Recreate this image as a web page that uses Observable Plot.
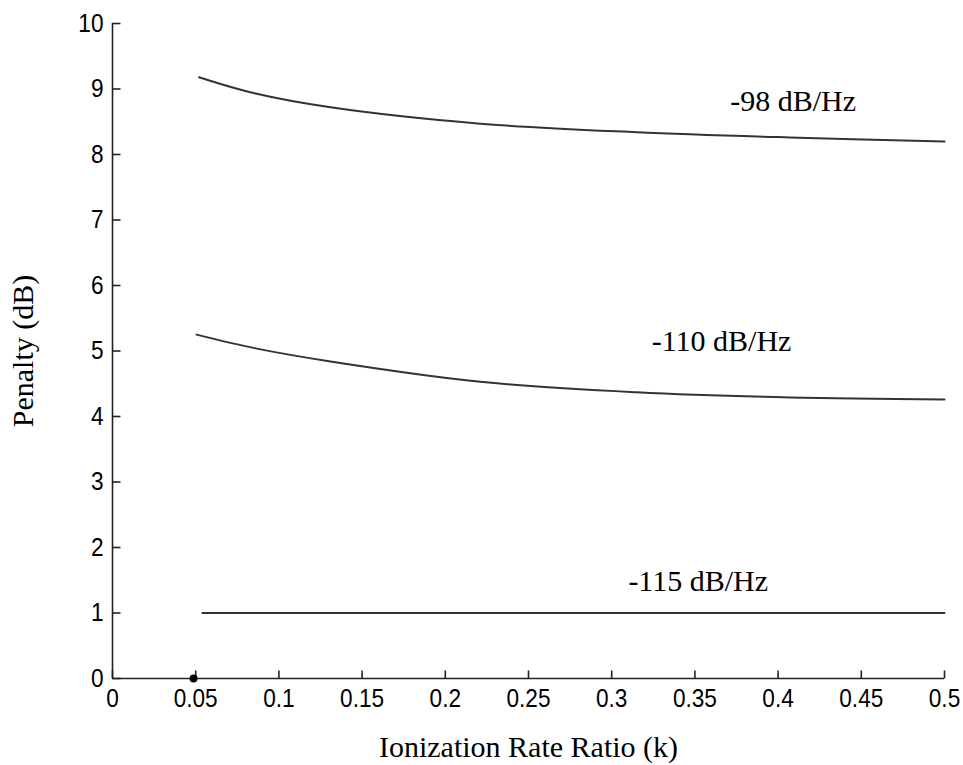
<!DOCTYPE html>
<html>
<head>
<meta charset="utf-8">
<script src="https://cdn.jsdelivr.net/npm/d3@7"></script>
<script src="https://cdn.jsdelivr.net/npm/@observablehq/plot@0.6"></script>
<style>
  html, body { margin: 0; padding: 0; background: #fff; }
  #chart svg { display: block; }
</style>
</head>
<body>
<div id="chart"></div>
<script>
// ---- data ----
const xTicks = [0, 0.05, 0.1, 0.15, 0.2, 0.25, 0.3, 0.35, 0.4, 0.45, 0.5];
const xTickLabels = ["0", "0.05", "0.1", "0.15", "0.2", "0.25", "0.3", "0.35", "0.4", "0.45", "0.5"];
const yTicks = [0, 1, 2, 3, 4, 5, 6, 7, 8, 9, 10];

const k98 = [0.052, 0.086, 0.131, 0.221, 0.315, 0.407, 0.5];
const p98 = [9.18, 8.93, 8.72, 8.47, 8.34, 8.26, 8.20];

const k110 = [0.0505, 0.086, 0.131, 0.221, 0.315, 0.407, 0.5];
const p110 = [5.25, 5.04, 4.84, 4.53, 4.37, 4.29, 4.26];

const k115 = [0.054, 0.5];
const p115 = [1.0, 1.0];

const seriesNames = ["-98 dB/Hz", "-110 dB/Hz", "-115 dB/Hz"];
const labelK = [0.409, 0.366, 0.352];
const labelP = [8.81, 5.15, 1.49];

const markerK = [0.0487];
const markerP = [0];

// ---- build tables ----
const toRows = (ks, ps, s) => ks.map((k, i) => ({k, p: ps[i], s}));
const lines = [
  ...toRows(k98, p98, seriesNames[0]),
  ...toRows(k110, p110, seriesNames[1]),
  ...toRows(k115, p115, seriesNames[2])
];
const labels = seriesNames.map((s, i) => ({s, k: labelK[i], p: labelP[i]}));
const markers = markerK.map((k, i) => ({k, p: markerP[i]}));

const serif = "'Liberation Serif', 'Times New Roman', serif";
const sans = "'Liberation Sans', Arial, sans-serif";
const axisColor = "#222";

const W = 963, H = 765;
const mL = 112, mR = 19, mT = 23, mB = 87;
const xDomain = [0, 0.5], yDomain = [0, 10];
const tickLen = 8; // px
const frameW = W - mL - mR, frameH = H - mT - mB;
// tick length expressed in data units of each scale
const xTickData = tickLen * (yDomain[1] - yDomain[0]) / frameH;
const yTickData = tickLen * (xDomain[1] - xDomain[0]) / frameW;

const chart = Plot.plot({
  width: W,
  height: H,
  marginLeft: mL,
  marginRight: mR,
  marginTop: mT,
  marginBottom: mB,
  style: {background: "#fff", color: "#000"},
  x: {domain: xDomain},
  y: {domain: yDomain},
  marks: [
    // axis lines
    Plot.ruleX([xDomain[0]], {y1: yDomain[0], y2: yDomain[1], stroke: axisColor, strokeWidth: 1.6}),
    Plot.ruleY([yDomain[0]], {x1: xDomain[0], x2: xDomain[1], stroke: axisColor, strokeWidth: 1.6}),
    // inward ticks
    Plot.link(xTicks, {x1: d => d, x2: d => d, y1: () => yDomain[0], y2: () => yDomain[0] + xTickData,
      stroke: axisColor, strokeWidth: 1.6}),
    Plot.link(yTicks, {y1: d => d, y2: d => d, x1: () => xDomain[0], x2: () => xDomain[0] + yTickData,
      stroke: axisColor, strokeWidth: 1.6}),
    // tick labels
    Plot.axisX({ticks: xTicks, tickSize: 0, tickPadding: 10, tickFormat: (d, i) => xTickLabels[i],
      fontSize: 26, fontFamily: sans, fill: "#000", label: null}),
    Plot.axisY({ticks: yTicks, tickSize: 0, tickPadding: 9, fontSize: 26, fontFamily: sans, fill: "#000", label: null}),
    // axis titles
    Plot.axisX({ticks: [], tickSize: 0, label: "Ionization Rate Ratio (k)", labelAnchor: "center", labelArrow: "none",
      labelOffset: 78, fontSize: 30, fontFamily: serif, fill: "#000"}),
    Plot.axisY({ticks: [], tickSize: 0, label: "Penalty (dB)", labelAnchor: "center", labelArrow: "none",
      labelOffset: 101, fontSize: 30, fontFamily: serif, fill: "#000"}),
    // curves
    Plot.line(lines, {x: "k", y: "p", z: "s", stroke: "#333", strokeWidth: 2, curve: "catmull-rom"}),
    // marker
    Plot.dot(markers, {x: "k", y: "p", r: 4, fill: "#000"}),
    // series labels
    Plot.text(labels, {x: "k", y: "p", text: "s", fontSize: 30, fontFamily: serif, fill: "#000", lineAnchor: "middle"})
  ]
});

document.getElementById("chart").appendChild(chart);

// condense tick labels horizontally (the original uses a narrow sans face)
requestAnimationFrame(() => {
  chart.querySelectorAll('g[aria-label="x-axis tick label"] text, g[aria-label="y-axis tick label"] text').forEach(t => {
    const w = t.getComputedTextLength();
    if (w > 0) {
      t.setAttribute("textLength", (w * 0.87).toFixed(1));
      t.setAttribute("lengthAdjust", "spacingAndGlyphs");
    }
  });
});
</script>
</body>
</html>
